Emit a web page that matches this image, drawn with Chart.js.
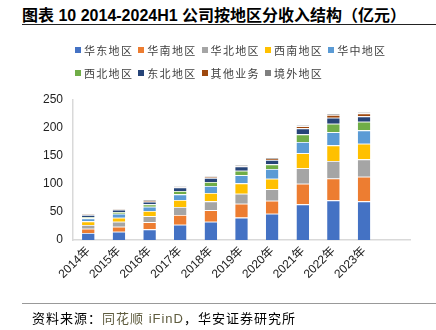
<!DOCTYPE html>
<html lang="zh">
<head>
    <meta charset="UTF-8">
    <title>公司按地区分收入结构</title>
    <style>
        * { box-sizing: border-box; margin: 0; padding: 0; }
        body {
            width: 436px;
            height: 330px;
            background: #fff;
            position: relative;
            overflow: hidden;
            font-family: "Liberation Sans", "Noto Sans CJK SC", sans-serif;
        }
        .title {
            position: absolute;
            left: 22px;
            top: 2px;
            font-size: 16px;
            font-weight: bold;
            color: #000;
            white-space: nowrap;
        }
        .title-line {
            position: absolute;
            left: 22px;
            right: 0;
            top: 24px;
            border-top: 1.5px solid #222;
        }
        .legend {
            position: absolute;
            left: 75px;
            top: 41px;
            display: grid;
            grid-template-columns: repeat(5, 63.3px);
            row-gap: 5px;
            font-size: 11px;
            letter-spacing: 1.3px;
            color: #404040;
        }
        .legend span { display: flex; align-items: center; white-space: nowrap; height: 18px; }
        .legend i { display: inline-block; width: 6px; height: 6px; margin-right: 3px; }
        #chart { position: absolute; left: 0; top: 0; }
        .src-line {
            position: absolute;
            left: 22px;
            right: 0;
            top: 303px;
            border-top: 1px solid #999;
        }
        .source {
            position: absolute;
            left: 32px;
            top: 308px;
            font-size: 13px;
            letter-spacing: 1px;
            color: #000;
            white-space: nowrap;
        }
        .source em { font-style: normal; color: #5e5b3e; }
    </style>
</head>
<body>

<div class="title">图表 10 2014-2024H1 公司按地区分收入结构（亿元）</div>
<div class="title-line"></div>
<canvas id="chart" width="436" height="330"></canvas>
<div class="legend" id="legend"></div>
<div class="src-line"></div>
<div class="source">资料来源：<em>同花顺 iFinD</em>，华安证券研究所</div>

<script src="https://cdn.jsdelivr.net/npm/chart.js"></script>
<script>
    // 年份（最后一格为 2024H1，图中无柱）
    const years = ['2014年', '2015年', '2016年', '2017年', '2018年', '2019年', '2020年', '2021年', '2022年', '2023年', ''];

    const regionNames = ['华东地区', '华南地区', '华北地区', '西南地区', '华中地区', '西北地区', '东北地区', '其他业务', '境外地区'];
    const regionColors = ['#4472C4', '#ED7D31', '#A5A5A5', '#FFC000', '#5B9BD5', '#70AD47', '#264478', '#9E480E', '#7F7F7F'];

    // 各地区收入（亿元）
    const huadong  = [12.5, 14.9, 19.0, 27.4, 32.7, 40.0, 47.0, 63.7, 70.8, 69.0, null];
    const huanan   = [7.7, 8.9, 13.0, 17.2, 20.3, 24.9, 23.2, 36.9, 39.2, 44.0, null];
    const huabei   = [6.6, 8.9, 10.3, 14.3, 16.0, 17.8, 20.3, 27.4, 31.0, 31.0, null];
    const xinan    = [6.5, 7.2, 9.5, 12.5, 14.9, 18.5, 19.0, 26.8, 28.0, 28.0, null];
    const huazhong = [5.4, 7.1, 7.7, 10.1, 12.5, 14.3, 17.3, 20.2, 23.3, 23.8, null];
    const xibei    = [2.3, 3.0, 4.2, 6.0, 7.2, 8.3, 8.3, 13.7, 15.4, 15.5, null];
    const dongbei  = [3.6, 4.0, 4.7, 6.5, 7.1, 7.7, 7.8, 10.7, 10.8, 9.5, null];
    const qita     = [0.8, 0.6, 1.2, 1.0, 1.5, 1.2, 2.2, 3.6, 4.7, 5.4, null];
    const jingwai  = [1.0, 0.8, 1.8, 1.4, 1.8, 1.3, 2.5, 2.4, 1.8, 2.4, null];

    const seriesValues = [huadong, huanan, huabei, xinan, huazhong, xibei, dongbei, qita, jingwai];

    const yTicks = [0, 50, 100, 150, 200, 250];

    // 图例
    const legend = document.getElementById('legend');
    regionNames.forEach((name, i) => {
        legend.innerHTML += `<span><i style="background:${regionColors[i]}"></i>${name}</span>`;
    });

    const datasets = regionNames.map((name, i) => ({
        label: name,
        data: seriesValues[i],
        backgroundColor: regionColors[i],
        borderColor: 'rgba(255,255,255,0.45)',
        borderWidth: { top: 0.8 },
        categoryPercentage: 1,
        barPercentage: 0.41
    }));

    const tickFont = { family: '"Liberation Sans", "Noto Sans CJK SC", sans-serif', size: 12 };

    new Chart(document.getElementById('chart').getContext('2d'), {
        type: 'bar',
        data: { labels: years, datasets: datasets },
        options: {
            responsive: false,
            animation: false,
            layout: { padding: { left: 0, right: 26, top: 100, bottom: 30 } },
            plugins: {
                legend: { display: false },
                tooltip: { enabled: false }
            },
            scales: {
                x: {
                    stacked: true,
                    grid: { display: false, drawTicks: false },
                    border: { display: true, color: '#D9D9D9', width: 1.5 },
                    ticks: {
                        color: '#222',
                        font: tickFont,
                        minRotation: 45,
                        maxRotation: 45,
                        autoSkip: false,
                        padding: 4
                    },
                    afterFit: s => { s.height = 60; }
                },
                y: {
                    stacked: true,
                    min: 0,
                    max: 250,
                    afterBuildTicks: s => { s.ticks = yTicks.map(v => ({ value: v })); },
                    grid: { display: false, drawTicks: false },
                    border: { display: true, color: '#D9D9D9', width: 1.5 },
                    ticks: { color: '#222', font: tickFont, padding: 10 },
                    afterFit: s => { s.width = 73; }
                }
            }
        }
    });
</script>

</body>
</html>
